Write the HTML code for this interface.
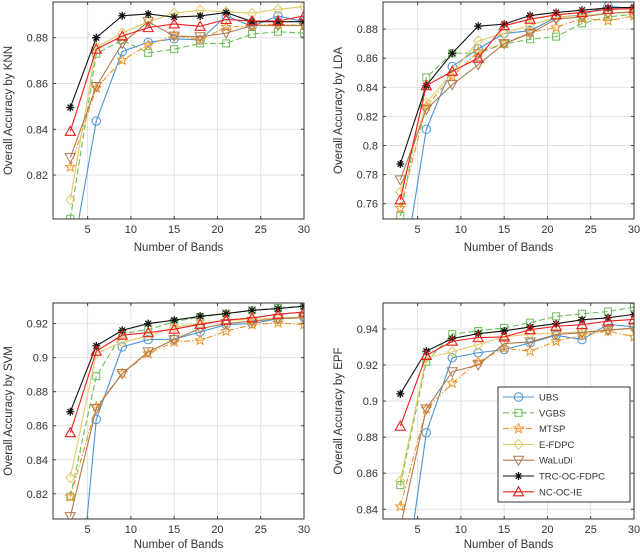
<!DOCTYPE html>
<html><head><meta charset="utf-8">
<style>
html,body{margin:0;padding:0;background:#fff;overflow:hidden;width:640px;height:553px;}
svg{display:block;font-family:"Liberation Sans",Arial,sans-serif;overflow:hidden;}
</style></head>
<body>
<svg id="fig" width="640" height="553" viewBox="0 0 640 553"></svg>
<script>
const bands = [3,6,9,12,15,18,21,24,27,30];
const seriesNames = ["UBS","VGBS","MTSP","E-FDPC","WaLuDi","TRC-OC-FDPC","NC-OC-IE"];
// KNN
const knnUBS   = [0.78,0.8436,0.874,0.878,0.8795,0.879,0.8895,0.885,0.8895,0.887];
const knnVGBS  = [0.8009,0.873,0.879,0.8734,0.875,0.8775,0.8775,0.8816,0.8826,0.882];
const knnMTSP  = [0.8235,0.858,0.8702,0.8768,0.881,0.879,0.8846,0.8853,0.886,0.8853];
const knnEFDPC = [0.8092,0.8758,0.882,0.887,0.8907,0.892,0.8913,0.8907,0.8924,0.8936];
const knnWaLuDi= [0.8276,0.8587,0.8775,0.887,0.8807,0.8804,0.882,0.8853,0.8853,0.8853];
const knnTRC   = [0.8495,0.880,0.8896,0.8904,0.889,0.8895,0.891,0.887,0.887,0.887];
const knnNC    = [0.8391,0.875,0.8807,0.8844,0.886,0.885,0.888,0.8873,0.8873,0.8895];
// LDA
const ldaUBS   = [0.70,0.8111,0.8543,0.8664,0.877,0.8789,0.888,0.8898,0.8957,0.894];
const ldaVGBS  = [0.7516,0.8468,0.8634,0.8634,0.8698,0.873,0.8748,0.8839,0.8884,0.8902];
const ldaMTSP  = [0.757,0.827,0.8475,0.8645,0.870,0.8777,0.8811,0.8873,0.8857,0.889];
const ldaEFDPC = [0.768,0.8293,0.8498,0.8718,0.877,0.8827,0.888,0.8895,0.8907,0.8923];
const ldaWaLuDi= [0.7764,0.8248,0.8418,0.8555,0.870,0.877,0.8868,0.8884,0.8907,0.8918];
const ldaTRC   = [0.7873,0.8411,0.8634,0.882,0.8834,0.8893,0.8914,0.893,0.8945,0.895];
const ldaNC    = [0.7627,0.8411,0.851,0.860,0.8823,0.8868,0.8898,0.8914,0.8936,0.894];
// SVM
const svmUBS   = [0.70,0.8637,0.9063,0.9106,0.9108,0.9151,0.9194,0.920,0.9229,0.9235];
const svmVGBS  = [0.8183,0.8891,0.9141,0.9165,0.921,0.9239,0.9259,0.9278,0.9292,0.9304];
const svmMTSP  = [0.8183,0.8711,0.8907,0.9024,0.9092,0.9102,0.9155,0.9194,0.9204,0.9194];
const svmEFDPC = [0.8295,0.9024,0.9092,0.9126,0.918,0.920,0.922,0.9223,0.9233,0.9239];
const svmWaLuDi= [0.8066,0.8701,0.8907,0.9034,0.9106,0.9171,0.920,0.9214,0.9229,0.9235];
const svmTRC   = [0.8682,0.9069,0.9161,0.920,0.922,0.9243,0.9259,0.9278,0.9288,0.9302];
const svmNC    = [0.8559,0.9038,0.9132,0.9147,0.9167,0.9196,0.922,0.9233,0.9255,0.9268];
// EPF
const epfUBS   = [0.78,0.8824,0.924,0.9268,0.9286,0.9323,0.9365,0.9341,0.9426,0.9411];
const epfVGBS  = [0.8534,0.9218,0.9371,0.9389,0.9406,0.9435,0.947,0.9484,0.9497,0.9521];
const epfMTSP  = [0.8415,0.8956,0.9099,0.9218,0.9292,0.9277,0.9332,0.9365,0.9389,0.9356];
const epfEFDPC = [0.8558,0.924,0.9273,0.9314,0.9356,0.9371,0.9378,0.9383,0.9393,0.9402];
const epfWaLuDi= [0.830,0.8956,0.9163,0.920,0.9319,0.9328,0.9369,0.938,0.9393,0.9406];
const epfTRC   = [0.904,0.9277,0.9347,0.9374,0.9389,0.9411,0.9429,0.9451,0.9462,0.9481];
const epfNC    = [0.8861,0.9253,0.9332,0.9352,0.9356,0.9396,0.9415,0.9424,0.9444,0.9453];

const xTicks = [5,10,15,20,25,30];
const knnTicks = [0.82,0.84,0.86,0.88];
const ldaTicks = [0.76,0.78,0.8,0.82,0.84,0.86,0.88];
const svmTicks = [0.82,0.84,0.86,0.88,0.9,0.92];
const epfTicks = [0.84,0.86,0.88,0.9,0.92,0.94];
const knnTickLabels = ["0.82","0.84","0.86","0.88"];
const ldaTickLabels = ["0.76","0.78","0.8","0.82","0.84","0.86","0.88"];
const svmTickLabels = ["0.82","0.84","0.86","0.88","0.9","0.92"];
const epfTickLabels = ["0.84","0.86","0.88","0.9","0.92","0.94"];

const styles = [
 {c:"#4a94d4",dash:"",m:"circle"},
 {c:"#6cbf5a",dash:"6,3",m:"square"},
 {c:"#f0962a",dash:"6,2,1.5,2",m:"star"},
 {c:"#e3cb68",dash:"",m:"diamond"},
 {c:"#b07a4e",dash:"",m:"tridown"},
 {c:"#111111",dash:"",m:"asterisk"},
 {c:"#ee1c1c",dash:"",m:"triup"}
];
const NS="http://www.w3.org/2000/svg";
const svg=document.getElementById('fig');
function mk(tag,attrs,parent){const e=document.createElementNS(NS,tag);for(const k in attrs)e.setAttribute(k,attrs[k]);(parent||svg).appendChild(e);return e;}

function marker(g,type,x,y,c){
  let e;
  if(type==="circle"){e=mk('circle',{cx:x,cy:y,r:4.2,fill:'none',stroke:c,'stroke-width':1},g);}
  else if(type==="square"){e=mk('rect',{x:x-3.5,y:y-3.5,width:7,height:7,fill:'none',stroke:c,'stroke-width':1},g);}
  else if(type==="diamond"){e=mk('polygon',{points:`${x},${y-5} ${x+4.5},${y} ${x},${y+5} ${x-4.5},${y}`,fill:'none',stroke:c,'stroke-width':1},g);}
  else if(type==="triup"){e=mk('polygon',{points:`${x},${y-5} ${x+5},${y+4} ${x-5},${y+4}`,fill:'none',stroke:c,'stroke-width':1.1},g);}
  else if(type==="tridown"){e=mk('polygon',{points:`${x},${y+5} ${x+5},${y-4} ${x-5},${y-4}`,fill:'none',stroke:c,'stroke-width':1},g);}
  else if(type==="star"){let p=[];for(let i=0;i<10;i++){const r=i%2?2.2:5;const a=-Math.PI/2+i*Math.PI/5;p.push((x+r*Math.cos(a)).toFixed(2)+','+(y+r*Math.sin(a)).toFixed(2));}
    e=mk('polygon',{points:p.join(' '),fill:'none',stroke:c,'stroke-width':1},g);}
  else {let d='';for(let i=0;i<4;i++){const a=i*Math.PI/4;d+=`M${x-4*Math.cos(a)},${y-4*Math.sin(a)}L${x+4*Math.cos(a)},${y+4*Math.sin(a)}`;}
    e=mk('path',{d:d,stroke:c,'stroke-width':1.3,fill:'none'},g);}
  
  
}

// clip polyline (in data space) to v >= lo
function clipLow(xs,vs,lo){
  const out=[];
  for(let i=0;i<xs.length;i++){
    const inside=vs[i]>=lo;
    if(i>0){const pin=vs[i-1]>=lo;
      if(pin!==inside){const t=(lo-vs[i-1])/(vs[i]-vs[i-1]);out.push([xs[i-1]+t*(xs[i]-xs[i-1]),lo]);}}
    if(inside)out.push([xs[i],vs[i]]);
  }
  return out;
}

function panel(id,box,ylim,yticks,ylabels,ylabel,data,legend,titleOff){
  const [L,T,R,B]=box;
  const sx=v=>L+(v-1)/(30-1)*(R-L);
  const sy=v=>B-(v-ylim[0])/(ylim[1]-ylim[0])*(B-T);
  const g=mk('g',{});
  
  
  mk('rect',{x:L,y:T,width:R-L,height:B-T,fill:'#fff'},g);
  const cp=mk('clipPath',{id:'clip-'+id},g);
  mk('rect',{x:L,y:T,width:R-L,height:B-T},cp);
  xTicks.forEach(t=>{const x=sx(t);
    const ln=mk('line',{x1:x,x2:x,y1:T,y2:B,stroke:'#e3e3e3','stroke-width':1},g);
    
    mk('line',{x1:x,x2:x,y1:B,y2:B-3,stroke:'#444'},g);mk('line',{x1:x,x2:x,y1:T,y2:T+3,stroke:'#444'},g);
    const tx=mk('text',{x:x,y:B+14,'font-size':11,'text-anchor':'middle',fill:'#333'},g);tx.textContent=t;
    });
  yticks.forEach((t,i)=>{const y=sy(t);
    const ln=mk('line',{x1:L,x2:R,y1:y,y2:y,stroke:'#e3e3e3','stroke-width':1},g);
    
    mk('line',{x1:L,x2:L+3,y1:y,y2:y,stroke:'#444'},g);mk('line',{x1:R,x2:R-3,y1:y,y2:y,stroke:'#444'},g);
    const tx=mk('text',{x:L-5,y:y+4,'font-size':11,'text-anchor':'end',fill:'#333'},g);tx.textContent=ylabels[i];
    });
  const pg=mk('g',{'clip-path':`url(#clip-${id})`},g);
  data.forEach((arr,si)=>{const st=styles[si];
    const sg=mk('g',{},pg);
    
    
    const cl=clipLow(bands,arr,ylim[0]-0.02*(ylim[1]-ylim[0]));
    const pts=cl.map(p=>sx(p[0]).toFixed(2)+','+sy(p[1]).toFixed(2)).join(' ');
    mk('polyline',{points:pts,fill:'none',stroke:st.c,'stroke-width':1.1,'stroke-dasharray':st.dash},sg);
    arr.forEach((v,i)=>{ if(sy(v)<=B+6) marker(sg,st.m,sx(bands[i]),sy(v),st.c); });
  });
  const fr=mk('rect',{x:L,y:T,width:R-L,height:B-T,fill:'none',stroke:'#333','stroke-width':1},g);
  
  const xl=mk('text',{x:(L+R)/2,y:B+titleOff,'font-size':11.5,'text-anchor':'middle',fill:'#333'},g);xl.textContent='Number of Bands';
  
  const cy=(T+B)/2, cx=L-41;
  const yl=mk('text',{x:cx,y:cy,'font-size':11.5,'text-anchor':'middle',fill:'#333',transform:`rotate(-90 ${cx} ${cy})`},g);yl.textContent=ylabel;
  
  if(legend){
    const lg=mk('g',{});
    
    const lx=498,ly=387,lw=132,lh=115;
    mk('rect',{x:lx,y:ly,width:lw,height:lh,fill:'#fff',stroke:'#333','stroke-width':1},lg);
    seriesNames.forEach((n,i)=>{const st=styles[i];const yy=ly+10+i*15.8;
      const e=mk('g',{},lg);
      
      mk('line',{x1:lx+5,x2:lx+36,y1:yy,y2:yy,stroke:st.c,'stroke-width':1.1,'stroke-dasharray':st.dash},e);
      marker(e,st.m,lx+20.5,yy,st.c);
      const t=mk('text',{x:lx+41,y:yy+3.5,'font-size':9.5,fill:'#333'},e);t.textContent=n;});
  }
}
panel('knn',[53,2,304,219],[0.8008,0.8956],knnTicks,knnTickLabels,'Overall Accuracy by KNN',[knnUBS,knnVGBS,knnMTSP,knnEFDPC,knnWaLuDi,knnTRC,knnNC],false,32);
panel('lda',[383,2,634,219],[0.7495,0.8986],ldaTicks,ldaTickLabels,'Overall Accuracy by LDA',[ldaUBS,ldaVGBS,ldaMTSP,ldaEFDPC,ldaWaLuDi,ldaTRC,ldaNC],false,32);
panel('svm',[53,303,304,519],[0.8052,0.9321],svmTicks,svmTickLabels,'Overall Accuracy by SVM',[svmUBS,svmVGBS,svmMTSP,svmEFDPC,svmWaLuDi,svmTRC,svmNC],false,29);
panel('epf',[383,303,634,519],[0.8346,0.9544],epfTicks,epfTickLabels,'Overall Accuracy by EPF',[epfUBS,epfVGBS,epfMTSP,epfEFDPC,epfWaLuDi,epfTRC,epfNC],true,29);
</script>
</body></html>
